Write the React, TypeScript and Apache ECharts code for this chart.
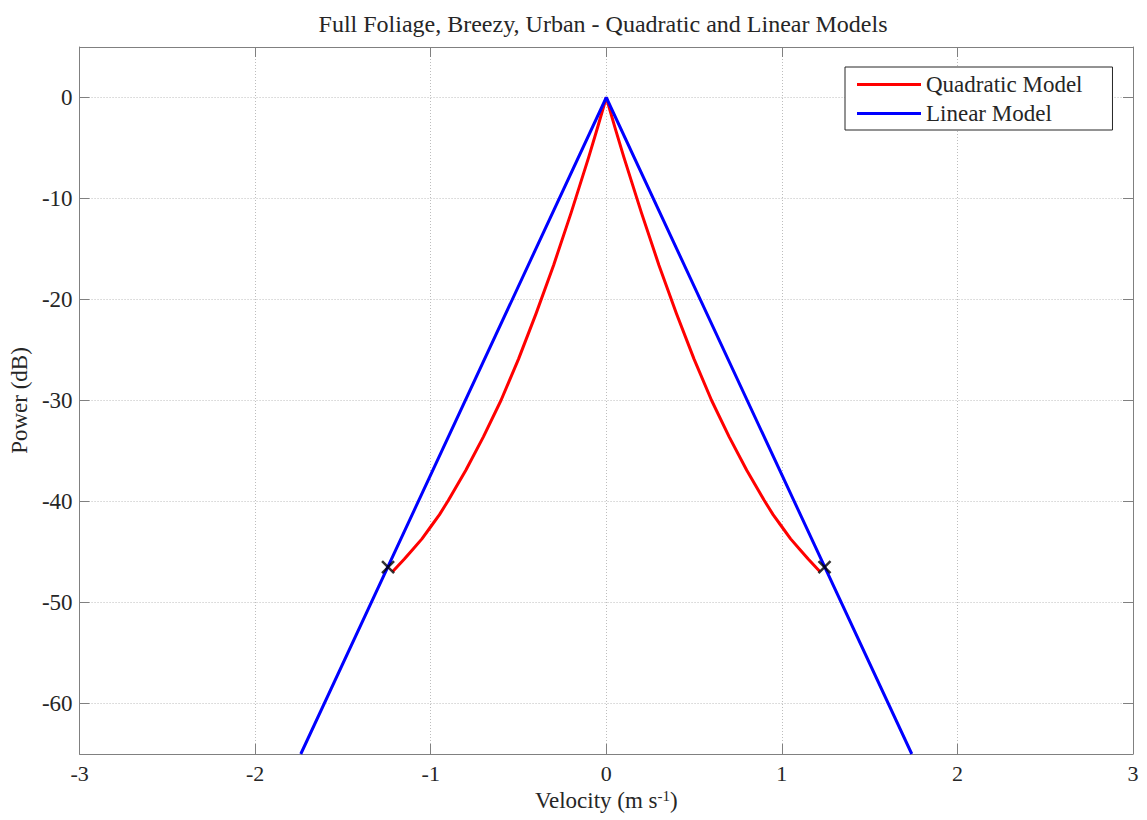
import React, { useEffect, useRef } from 'react';
import * as echarts from 'echarts';

const chartTitle = 'Full Foliage, Breezy, Urban - Quadratic and Linear Models';
const xAxisName = 'Velocity (m s';
const xAxisSup = '-1';
const yAxisName = 'Power (dB)';
const yTickValues = [-60, -50, -40, -30, -20, -10, 0];

const quadLeftVelocity = [-1.215, -1.15, -1.1, -1.05, -1.0, -0.95, -0.9, -0.8, -0.7, -0.6, -0.5, -0.4, -0.3, -0.2, -0.1, -0.05, 0];
const quadLeftPower = [-46.9, -45.7, -44.7, -43.7, -42.5, -41.3, -39.9, -36.9, -33.6, -30.0, -25.9, -21.4, -16.6, -11.4, -5.9, -3.0, 0];
const quadRightVelocity = [0, 0.05, 0.1, 0.2, 0.3, 0.4, 0.5, 0.6, 0.7, 0.8, 0.9, 0.95, 1.0, 1.05, 1.1, 1.15, 1.215];
const quadRightPower = [0, -3.0, -5.9, -11.4, -16.6, -21.4, -25.9, -30.0, -33.6, -36.9, -39.9, -41.3, -42.5, -43.7, -44.7, -45.7, -46.9];

const linVelocity = [-1.74, 0, 1.74];
const linPower = [-65, 0, -65];

const crossVelocity = [-1.243, 1.243];
const crossPower = [-46.5, -46.5];

const FONT = '"Liberation Serif", "DejaVu Serif", serif';
const AXIS_GRAY = '#808080';
const TEXT = '#262626';
const FS = 23;

export default function App() {
  const ref = useRef<HTMLDivElement>(null);
  useEffect(() => {
    if (!ref.current) return;
    const chart = echarts.init(ref.current, undefined, { renderer: 'svg' });
    const tickStyle = { show: true, inside: true, length: 10, lineStyle: { color: AXIS_GRAY, width: 1 } };
    const lineStyleAxis = { show: true, onZero: false, lineStyle: { color: AXIS_GRAY, width: 1 } };
    const gridLine = { show: true, lineStyle: { color: '#bdbdbd', type: [1, 2], width: 1 } };
    const quadStyle = {
      type: 'line',
      name: 'Quadratic Model',
      showSymbol: false,
      symbol: 'none',
      smooth: false,
      color: '#ff0000',
      lineStyle: { color: '#ff0000', width: 3, join: 'round' },
      z: 3,
    };
    chart.setOption({
      animation: false,
      backgroundColor: '#fff',
      title: {
        text: chartTitle,
        left: 598,
        top: 7,
        textAlign: 'center',
        textStyle: { fontFamily: FONT, fontSize: 24, fontWeight: 'normal', color: TEXT },
      },
      legend: {
        orient: 'vertical',
        left: 845,
        top: 67,
        padding: [6, 30, 5, 12],
        itemWidth: 64,
        itemHeight: 3,
        itemGap: 6,
        icon: 'rect',
        borderColor: '#262626',
        borderWidth: 1,
        backgroundColor: '#fff',
        textStyle: { fontFamily: FONT, fontSize: FS, lineHeight: 23, color: TEXT },
        data: ['Quadratic Model', 'Linear Model'],
      },
      grid: { left: 77, right: 14, top: 47, bottom: 66, containLabel: false },
      xAxis: [
        {
          type: 'value',
          min: -3,
          max: 3,
          interval: 1,
          position: 'bottom',
          axisLine: lineStyleAxis,
          axisTick: tickStyle,
          splitLine: gridLine,
          axisLabel: { fontFamily: FONT, fontSize: 22, color: TEXT, margin: 8 },
          name: '{a|' + xAxisName + '}{s|' + xAxisSup + '}{a|)}',
          nameLocation: 'middle',
          nameGap: 28,
          nameTextStyle: {
            fontFamily: FONT,
            fontSize: FS,
            color: TEXT,
            rich: {
              a: { fontFamily: FONT, fontSize: FS, color: TEXT, lineHeight: 24 },
              s: { fontFamily: FONT, fontSize: 15, color: TEXT, verticalAlign: 'top', lineHeight: 24 },
            },
          },
        },
        {
          type: 'value',
          min: -3,
          max: 3,
          interval: 1,
          position: 'top',
          axisLine: lineStyleAxis,
          axisTick: tickStyle,
          splitLine: { show: false },
          axisLabel: { show: false },
        },
      ],
      yAxis: [
        {
          type: 'value',
          min: -65,
          max: 5,
          position: 'left',
          axisLine: lineStyleAxis,
          axisTick: { ...tickStyle, customValues: yTickValues },
          splitLine: gridLine,
          axisLabel: { fontFamily: FONT, fontSize: FS, color: TEXT, margin: 7, customValues: yTickValues },
          name: yAxisName,
          nameLocation: 'middle',
          nameRotate: 90,
          nameGap: 45,
          nameTextStyle: { fontFamily: FONT, fontSize: FS, color: TEXT },
        },
        {
          type: 'value',
          min: -65,
          max: 5,
          position: 'right',
          axisLine: lineStyleAxis,
          axisTick: { ...tickStyle, customValues: yTickValues },
          splitLine: { show: false },
          axisLabel: { show: false, customValues: yTickValues },
        },
      ],
      series: [
        { ...quadStyle, data: quadLeftVelocity.map((v, i) => [v, quadLeftPower[i]]) },
        { ...quadStyle, data: quadRightVelocity.map((v, i) => [v, quadRightPower[i]]) },
        {
          name: 'Linear Model',
          type: 'line',
          data: linVelocity.map((v, i) => [v, linPower[i]]),
          showSymbol: false,
          symbol: 'none',
          color: '#0000ff',
          lineStyle: { color: '#0000ff', width: 3 },
          clip: true,
          z: 4,
        },
        {
          name: 'Intersections',
          type: 'scatter',
          data: crossVelocity.map((v, i) => [v, crossPower[i]]),
          symbol: 'path://M0,0L10,10M10,0L0,10',
          symbolSize: 12,
          itemStyle: { color: 'none', borderColor: '#000', borderWidth: 2.5 },
          z: 5,
        },
      ],
    });
    return () => chart.dispose();
  }, []);
  return <div ref={ref} style={{ position: 'fixed', left: 0, top: 0, width: 1147, height: 820 }} />;
}
